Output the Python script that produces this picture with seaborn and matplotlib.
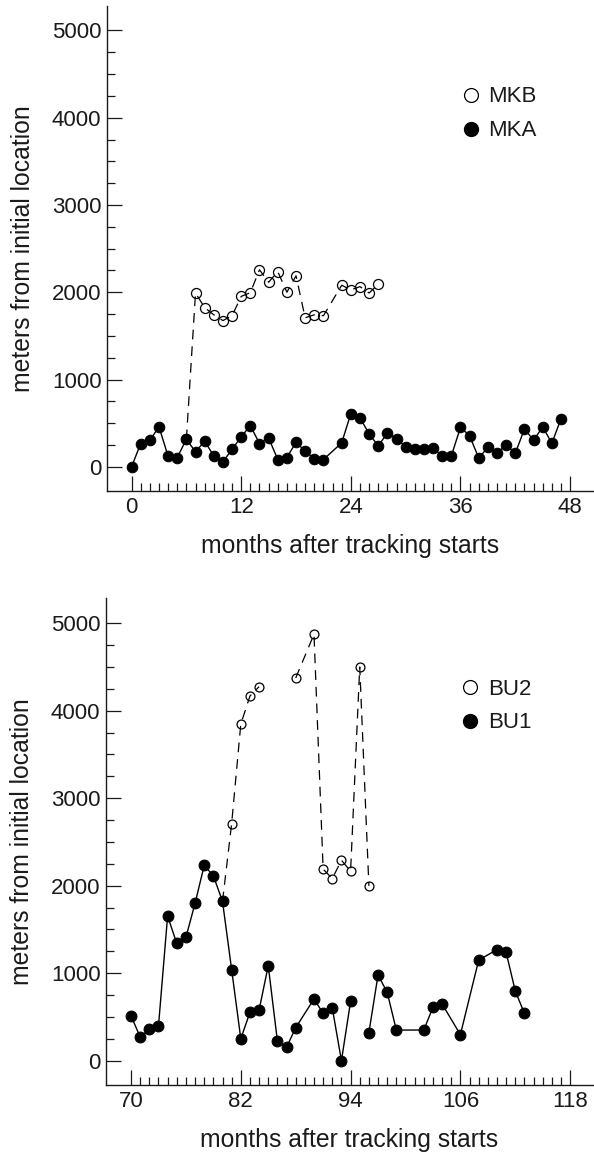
import pandas as pd
import seaborn as sns
import matplotlib.pyplot as plt
from matplotlib.lines import Line2D
from matplotlib.ticker import FixedLocator

# top panel: MKA (filled) and MKB (open)
mka_months = list(range(0, 22)) + list(range(23, 48))
mka_vals = [0, 267, 305, 458, 122, 107, 317, 172, 294, 126, 57, 202, 344, 473, 267, 332, 84, 107,
            282, 179, 95, 84,
            275, 611, 561, 378, 240, 389, 324, 229, 202, 202, 218, 122, 126, 454, 355, 99, 225,
            156, 252, 156, 435, 305, 458, 270, 552]
mkb_months = list(range(6, 22)) + list(range(23, 28))
mkb_vals = [317, 1992, 1825, 1742, 1676, 1732, 1953, 1996, 2258, 2115, 2238, 2001, 2189, 1708,
            1742, 1732,
            2081, 2028, 2065, 1992, 2093]

# bottom panel: BU1 (filled) and BU2 (open)
bu1_months = list(range(70, 89)) + [90, 91, 92, 93, 94, 96, 97, 98, 99, 102, 103, 104, 106, 108,
                                    110, 111, 112, 113]
bu1_vals = [514, 270, 358, 392, 1653, 1341, 1410, 1798, 2232, 2114, 1821, 1040, 251, 552, 579,
            1086, 225, 152, 377,
            705, 541, 602, 0, 678, 320, 979, 781, 350, 350, 610, 648, 297, 1150,
            1269, 1238, 796, 541]
bu1_breaks = [96]
bu2_months = [80, 81, 82, 83, 84, 88, 90, 91, 92, 93, 94, 95, 96]
bu2_vals = [1821, 2710, 3847, 4168, 4275, 4374, 4874, 2189, 2081, 2291, 2166, 4500, 1998]
bu2_breaks = [88]


def frame(months, vals, breaks=()):
    df = pd.DataFrame({'month': months, 'dist': vals})
    df['seg'] = [sum(m >= b for b in breaks) for m in months]
    return df


sns.set_style('ticks')
plt.rcParams['font.family'] = ['Liberation Sans', 'DejaVu Sans']
plt.rcParams['lines.scale_dashes'] = False
ink = '#1a1a1a'
fs_tick = 16
fs_label = 17.8
fs_leg = 16

fig = plt.figure(figsize=(5.94, 11.54), dpi=100)
ax_top = fig.add_axes([0.1801, 0.5745, 0.8182, 0.4199])
ax_bot = fig.add_axes([0.1785, 0.0598, 0.8199, 0.4218])

panels = [
    (ax_top, frame(mkb_months, mkb_vals), frame(mka_months, mka_vals), ('MKB', 'MKA'),
     (-2.69, 50.5), (-277, 5275), range(0, 49, 12), 0, 48, 7.2, 7.6),
    (ax_bot, frame(bu2_months, bu2_vals, bu2_breaks), frame(bu1_months, bu1_vals, bu1_breaks),
     ('BU2', 'BU1'), (67.27, 120.5), (-278, 5286), range(70, 119, 12), 70, 118, 6.4, 7.8),
]

for ax, open_df, fill_df, names, xl, yl, majors, x0, x1, ms_open, ms_fill in panels:
    sns.lineplot(data=open_df, x='month', y='dist', units='seg', estimator=None, ax=ax,
                 color='k', lw=0.9, linestyle=(0, (7, 5)), marker='o', markersize=ms_open,
                 markerfacecolor='none', markeredgecolor='k', markeredgewidth=0.9, zorder=2)
    sns.lineplot(data=fill_df, x='month', y='dist', units='seg', estimator=None, ax=ax,
                 color='k', lw=1.0, marker='o', markersize=ms_fill,
                 markerfacecolor='k', markeredgecolor='k', zorder=3)

    ax.set_xlim(*xl)
    ax.set_ylim(*yl)
    ax.xaxis.set_major_locator(FixedLocator(list(majors)))
    ax.xaxis.set_minor_locator(FixedLocator([m for m in range(x0 + 1, x1) if (m - x0) % 12]))
    ax.yaxis.set_major_locator(FixedLocator(range(0, 5001, 1000)))
    ax.yaxis.set_minor_locator(FixedLocator([v for v in range(250, 5000, 250) if v % 1000]))
    ax.tick_params(which='both', direction='in', width=0.9, color=ink, labelcolor=ink,
                   labelsize=fs_tick)
    ax.tick_params(which='major', length=11)
    ax.tick_params(which='minor', length=5.5)
    ax.tick_params(axis='x', which='major', pad=4)
    ax.tick_params(axis='y', which='major', pad=4)
    sns.despine(ax=ax)
    for s in ('left', 'bottom'):
        ax.spines[s].set_linewidth(1.0)
        ax.spines[s].set_color(ink)

    ax.set_xlabel('months after tracking starts', fontsize=fs_label, color=ink, labelpad=12)
    ax.set_ylabel('meters from initial location', fontsize=fs_label, color=ink, labelpad=12)

    handles = [
        Line2D([], [], ls='none', marker='o', ms=10, mfc='none', mec='k', mew=0.9),
        Line2D([], [], ls='none', marker='o', ms=10, mfc='k', mec='k'),
    ]
    ax.legend(handles, names, loc='upper left', bbox_to_anchor=(0.73, 0.835), frameon=False,
              fontsize=fs_leg, handlelength=0.8, handletextpad=0.38, labelspacing=0.58,
              borderpad=0, borderaxespad=0, labelcolor=ink)

fig.savefig('out.png', dpi=100)
